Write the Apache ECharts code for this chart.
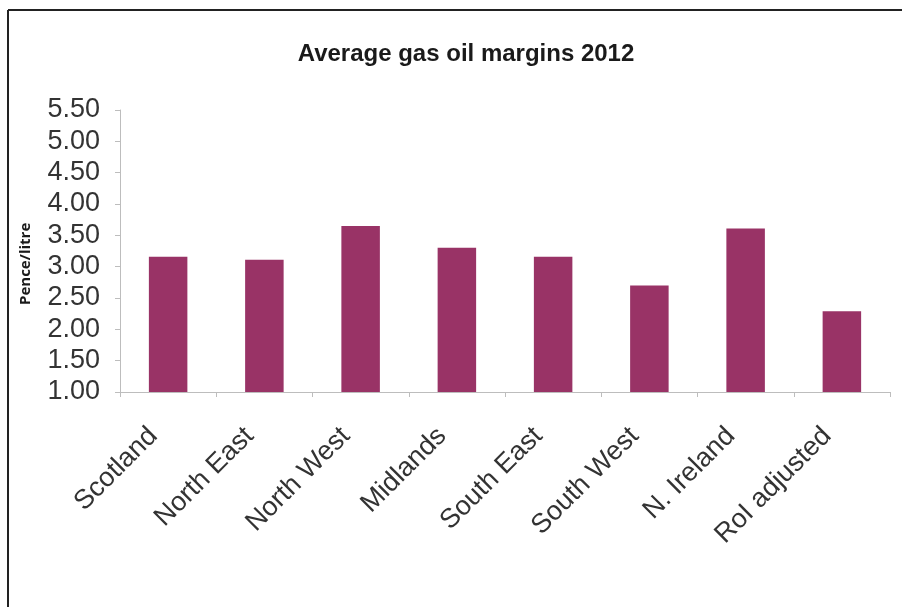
<!DOCTYPE html>
<html>
<head>
<meta charset="utf-8">
<script src="https://cdn.jsdelivr.net/npm/echarts@6/dist/echarts.min.js"></script>
<style>
html,body{margin:0;padding:0;background:#fff;}
#c{width:902px;height:607px;}
</style>
</head>
<body>
<div id="c"></div>
<script>
var categories = ['Scotland','North East','North West','Midlands','South East','South West','N. Ireland','RoI adjusted'];
var margins = [3.16, 3.11, 3.65, 3.30, 3.16, 2.70, 3.61, 2.29];
var titleText = 'Average gas oil margins 2012';
var yAxisName = 'Pence/litre';

var chart = echarts.init(document.getElementById('c'), null, {renderer:'canvas'});
chart.setOption({
  backgroundColor:'#fff',
  animation:false,
  title:{
    text:titleText,
    left:461, top:37, textAlign:'center',
    textStyle:{fontFamily:'Liberation Sans', fontWeight:'bold', fontSize:24, color:'#1a1a1a'}
  },
  graphic:[
    {type:'line', shape:{x1:8,y1:10,x2:902,y2:10}, style:{stroke:'#222', lineWidth:2}},
    {type:'line', shape:{x1:8,y1:10,x2:8,y2:607}, style:{stroke:'#222', lineWidth:2}},
    {type:'text', x:18, y:305, rotation:Math.PI/2, style:{text:yAxisName, font:'bold 15px "Open Sans"', fill:'#1a1a1a', textVerticalAlign:'top'}}
  ],
  grid:{left:120, right:12, top:110, bottom:215, containLabel:false},
  xAxis:{
    type:'category', data:categories, boundaryGap:true,
    axisLine:{show:true, lineStyle:{color:'#bdbdbd', width:1}},
    axisTick:{show:true, length:5, alignWithLabel:false, lineStyle:{color:'#bdbdbd'}},
    axisLabel:{rotate:45, fontFamily:'Liberation Sans', fontSize:27, color:'#333', margin:25, padding:[0,21,0,0], interval:0}
  },
  yAxis:{
    type:'value', min:1, max:5.5, interval:0.5,
    axisLine:{show:true, lineStyle:{color:'#bdbdbd', width:1}},
    axisTick:{show:true, length:5, lineStyle:{color:'#bdbdbd'}},
    splitLine:{show:false},
    axisLabel:{fontFamily:'Liberation Sans', fontSize:27, color:'#333', margin:20,
      formatter:function(v){return v.toFixed(2);}}
  },
  series:[{
    type:'bar', data:margins, barWidth:'40%',
    itemStyle:{color:'#993366'}
  }]
});
</script>
</body>
</html>
